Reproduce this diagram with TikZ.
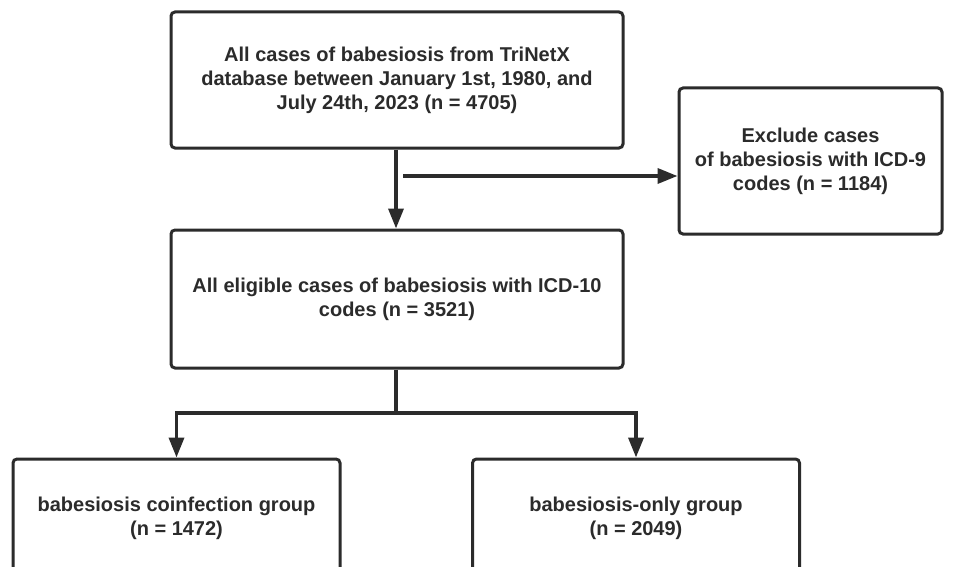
\documentclass[tikz,border=0pt]{standalone}
\usepackage{fontspec}
\setmainfont{Liberation Sans}[BoldFont={Liberation Sans Bold}]
\usepackage{tikz}
\usetikzlibrary{positioning, arrows.meta, calc}
\definecolor{mydark}{HTML}{2B2B2B}
\tikzset{
	flowbox/.style={
			draw=mydark,
			line width=3pt,
			rounded corners=4pt,
			fill=white,
			text=mydark,
			font=\fontsize{20}{24}\selectfont\bfseries,
			align=center,
			inner sep=0pt
		},
	flowarrow/.style={
			draw=mydark,
			line width=3.6pt,
			-{Triangle[length=20pt,width=15pt]}
		},
	flowline/.style={
			draw=mydark,
			line width=3.6pt
		}
}

\begin{document}
\begin{tikzpicture}[x=1pt,y=-1pt]
\useasboundingbox (0,0) rectangle (955,567);
\clip (0,0) rectangle (955,567);

\node[flowbox, minimum width=452pt, minimum height=136pt] (bAll) at (397,80)
  {All cases of babesiosis from TriNetX\\database between January 1st, 1980, and\\July 24th, 2023 (n = 4705)};
\node[flowbox, minimum width=452pt, minimum height=138pt] (bEligible) at (397,299)
  {All eligible cases of babesiosis with ICD-10\\codes (n = 3521)};
\node[flowbox, minimum width=263pt, minimum height=146pt] (bExclude) at (810.5,161)
  {Exclude cases\\of babesiosis with ICD-9\\codes (n = 1184)};
\node[flowbox, minimum width=327pt, minimum height=118pt] (bCoinf) at (176.5,518)
  {babesiosis coinfection group\\(n = 1472)};
\node[flowbox, minimum width=327pt, minimum height=118pt] (bOnly) at (636,518)
  {babesiosis-only group\\(n = 2049)};

\coordinate (cSplit) at (403,176);
\coordinate (cJoin) at (396,413);

\draw[flowarrow] (bAll.south -| cJoin) -- (bEligible.north -| cJoin);
\draw[flowarrow] (cSplit) -- (bExclude.west |- cSplit);
\draw[flowline] (bEligible.south -| cJoin) -- (cJoin);
\draw[flowarrow] (cJoin) -| (bCoinf.north);
\draw[flowarrow] (cJoin) -| (bOnly.north);

\end{tikzpicture}
\end{document}
